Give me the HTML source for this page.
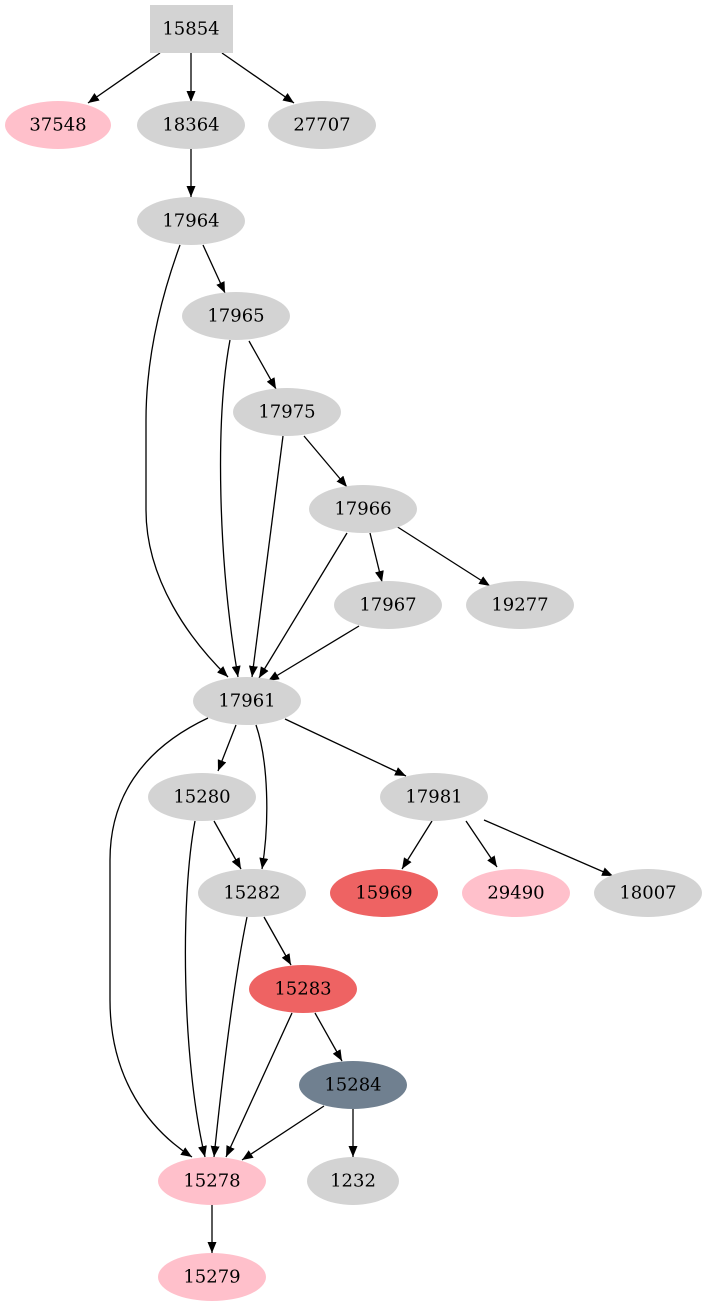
<!DOCTYPE html>
<html><head><meta charset="utf-8"><style>
html,body{margin:0;padding:0;background:#fff;}
svg{display:block;}
text{font-family:"DejaVu Serif","Liberation Serif",serif;font-size:18px;text-anchor:middle;dominant-baseline:central;fill:#000;}
</style></head><body>
<svg width="707" height="1307" viewBox="0 0 707 1307" xmlns="http://www.w3.org/2000/svg">
<defs><marker id="a" viewBox="0 0 11 9" refX="11" refY="4.5" markerWidth="11" markerHeight="9" markerUnits="userSpaceOnUse" orient="auto"><path d="M0,0 L11,4.5 L0,9 z" fill="#000"/></marker></defs>
<g fill="none" stroke="#000" stroke-width="1.3" marker-end="url(#a)">
<path d="M160,53 L88,103"/>
<path d="M191,53 L191,102"/>
<path d="M222,53 L294,103"/>
<path d="M191,149 L191,197"/>
<path d="M203,245 L225,293"/>
<path d="M249,341 L276,389"/>
<path d="M304,436 L347,487"/>
<path d="M370,533 L382,582"/>
<path d="M396,526 L490,586"/>
<path d="M180,245 C160,300 146,360 146,420 L146,510 C146,580 190,640 228,677"/>
<path d="M230,340 C215,420 218,560 238,677"/>
<path d="M283,436 L252,677"/>
<path d="M347,533 L259,678"/>
<path d="M359,626 L268,681"/>
<path d="M236,725 L218,771"/>
<path d="M256,725 C268,760 270,820 262,869"/>
<path d="M285,719 L406,776"/>
<path d="M208,718 C140,750 110,800 110,860 L110,1000 C110,1080 150,1130 192,1157"/>
<path d="M195,821 C180,900 182,1060 205,1157"/>
<path d="M214,821 L241,869"/>
<path d="M247,917 C234,980 222,1080 214,1157"/>
<path d="M264,917 L291,965"/>
<path d="M292,1013 L226,1157"/>
<path d="M315,1013 L342,1061"/>
<path d="M324,1106 L242,1160"/>
<path d="M353,1109 L353,1157"/>
<path d="M212,1205 L212,1253"/>
<path d="M432,821 L402,869"/>
<path d="M466,821 L497,867"/>
<path d="M484,820 L613,876"/>
</g>
<rect x="150" y="5" width="83" height="48" fill="#d3d3d3"/><text x="191" y="29">15854</text>
<g>
<ellipse cx="58" cy="125" rx="53" ry="24" fill="#ffc0cb"/><text x="58" y="125">37548</text>
<ellipse cx="191" cy="125" rx="54" ry="24" fill="#d3d3d3"/><text x="191" y="125">18364</text>
<ellipse cx="322" cy="125" rx="54" ry="24" fill="#d3d3d3"/><text x="322" y="125">27707</text>
<ellipse cx="191" cy="221" rx="54" ry="24" fill="#d3d3d3"/><text x="191" y="221">17964</text>
<ellipse cx="236" cy="316" rx="54" ry="24" fill="#d3d3d3"/><text x="236" y="316">17965</text>
<ellipse cx="287" cy="412" rx="54" ry="24" fill="#d3d3d3"/><text x="287" y="412">17975</text>
<ellipse cx="363" cy="509" rx="54" ry="24" fill="#d3d3d3"/><text x="363" y="509">17966</text>
<ellipse cx="388" cy="605" rx="54" ry="24" fill="#d3d3d3"/><text x="388" y="605">17967</text>
<ellipse cx="520" cy="605" rx="54" ry="24" fill="#d3d3d3"/><text x="520" y="605">19277</text>
<ellipse cx="247" cy="701" rx="54" ry="24" fill="#d3d3d3"/><text x="247" y="701">17961</text>
<ellipse cx="202" cy="797" rx="54" ry="24" fill="#d3d3d3"/><text x="202" y="797">15280</text>
<ellipse cx="434" cy="797" rx="54" ry="24" fill="#d3d3d3"/><text x="434" y="797">17981</text>
<ellipse cx="252" cy="893" rx="54" ry="24" fill="#d3d3d3"/><text x="252" y="893">15282</text>
<ellipse cx="384" cy="893" rx="54" ry="24" fill="#ee6363"/><text x="384" y="893">15969</text>
<ellipse cx="516" cy="893" rx="54" ry="24" fill="#ffc0cb"/><text x="516" y="893">29490</text>
<ellipse cx="648" cy="893" rx="54" ry="24" fill="#d3d3d3"/><text x="648" y="893">18007</text>
<ellipse cx="303" cy="989" rx="54" ry="24" fill="#ee6363"/><text x="303" y="989">15283</text>
<ellipse cx="353" cy="1085" rx="54" ry="24" fill="#708090"/><text x="353" y="1085">15284</text>
<ellipse cx="212" cy="1181" rx="54" ry="24" fill="#ffc0cb"/><text x="212" y="1181">15278</text>
<ellipse cx="353" cy="1181" rx="46" ry="24" fill="#d3d3d3"/><text x="353" y="1181">1232</text>
<ellipse cx="212" cy="1277" rx="54" ry="24" fill="#ffc0cb"/><text x="212" y="1277">15279</text>
</g>
</svg>
</body></html>
